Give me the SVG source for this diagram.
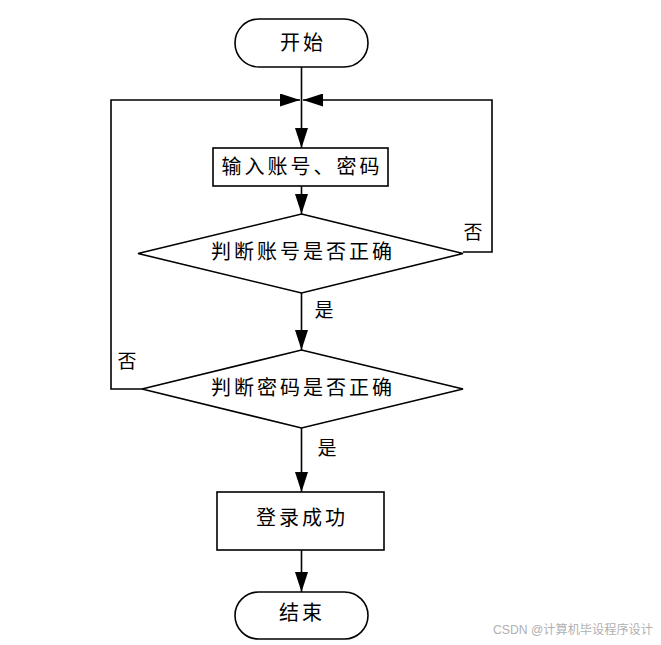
<svg xmlns="http://www.w3.org/2000/svg" width="661" height="645" viewBox="0 0 661 645">
<style>
.shape{fill:#fff;stroke:#000;stroke-width:1.6}
.conn{fill:none;stroke:#000;stroke-width:1.6}
.t{font-family:"Liberation Sans","Noto Sans CJK SC",sans-serif;font-size:20px;letter-spacing:3px;text-anchor:middle;dominant-baseline:central;fill:#000}
.lbl{font-family:"Liberation Sans","Noto Sans CJK SC",sans-serif;font-size:19px;text-anchor:middle;dominant-baseline:central;fill:#000}
.wm{font-family:"Liberation Sans","Noto Sans CJK SC",sans-serif;font-size:12px;fill:#b0b0b0;dominant-baseline:central}
</style>
<defs>
<marker id="arr" markerUnits="userSpaceOnUse" markerWidth="20" markerHeight="13" refX="20" refY="6.5" orient="auto">
<path d="M0,0 L20,6.5 L0,13 z" fill="#000"/>
</marker>
</defs>
<rect width="661" height="645" fill="#fff"/>
<g id="connectors">
<path class="conn" d="M301.5,67 L301.5,148" marker-end="url(#arr)"/>
<path class="conn" d="M301.5,186 L301.5,214" marker-end="url(#arr)"/>
<path class="conn" d="M301.5,293 L301.5,350" marker-end="url(#arr)"/>
<path class="conn" d="M301.5,428 L301.5,492" marker-end="url(#arr)"/>
<path class="conn" d="M301.5,550 L301.5,592" marker-end="url(#arr)"/>
<path class="conn" d="M142,389 L111,389 L111,100 L300,100" marker-end="url(#arr)"/>
<path class="conn" d="M463,252 L492,252 L492,100 L303,100" marker-end="url(#arr)"/>
<text class="lbl" x="473" y="232">否</text>
<text class="lbl" x="127" y="361">否</text>
<text class="lbl" x="324" y="310">是</text>
<text class="lbl" x="327" y="448">是</text>
</g>
<g id="start">
<rect class="shape" x="235" y="19" width="133" height="48" rx="24" ry="24"/>
<text class="t" x="303" y="43">开始</text>
</g>
<g id="input">
<rect class="shape" x="213" y="148" width="175" height="38"/>
<text class="t" x="302" y="167">输入账号、密码</text>
</g>
<g id="checkAccount">
<polygon class="shape" points="301.5,214 463,253.5 301.5,293 138,253.5"/>
<text class="t" x="303" y="252">判断账号是否正确</text>
</g>
<g id="checkPassword">
<polygon class="shape" points="301.5,350 463,389 301.5,428 142,389"/>
<text class="t" x="303" y="388">判断密码是否正确</text>
</g>
<g id="success">
<rect class="shape" x="217" y="492" width="167" height="58"/>
<text class="t" x="302" y="518">登录成功</text>
</g>
<g id="end">
<rect class="shape" x="235" y="592" width="133" height="47" rx="23.5" ry="23.5"/>
<text class="t" x="302" y="613">结束</text>
</g>
<text class="wm" x="493" y="630" textLength="160" lengthAdjust="spacingAndGlyphs">CSDN @计算机毕设程序设计</text>
</svg>
